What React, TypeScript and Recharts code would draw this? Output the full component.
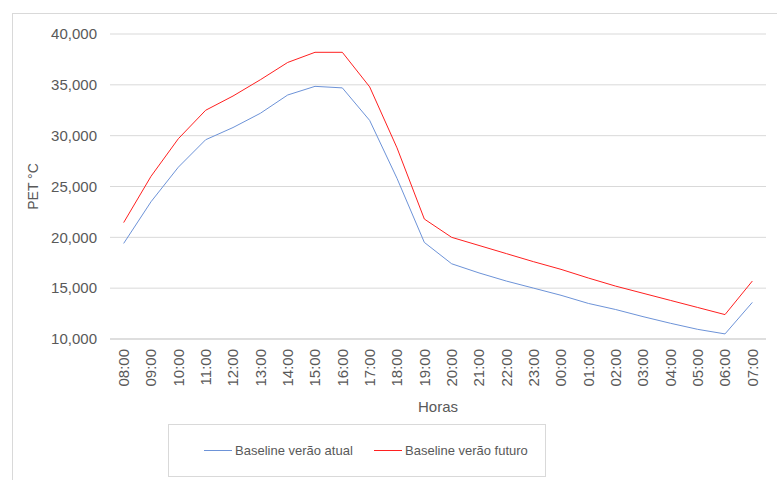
import { LineChart, Line, XAxis, YAxis, CartesianGrid, Legend } from "recharts";

// hours of the day (x axis)
const hours = [
  "08:00", "09:00", "10:00", "11:00", "12:00", "13:00", "14:00", "15:00",
  "16:00", "17:00", "18:00", "19:00", "20:00", "21:00", "22:00", "23:00",
  "00:00", "01:00", "02:00", "03:00", "04:00", "05:00", "06:00", "07:00",
];

// PET °C, current summer baseline
const atual = [
  19.4, 23.5, 26.9, 29.6, 30.8, 32.2, 34.0, 34.85, 34.7, 31.5, 25.8, 19.5,
  17.4, 16.5, 15.7, 15.0, 14.3, 13.5, 12.9, 12.2, 11.55, 10.95, 10.5, 13.6,
];

// PET °C, future summer baseline
const futuro = [
  21.45, 26.0, 29.7, 32.5, 33.9, 35.5, 37.2, 38.2, 38.2, 34.8, 28.8, 21.8,
  20.0, 19.2, 18.4, 17.6, 16.85, 16.0, 15.2, 14.5, 13.8, 13.1, 12.4, 15.7,
];

const yTicks = [10000, 15000, 20000, 25000, 30000, 35000, 40000];

const data = hours.map((h, i) => ({
  hora: h,
  atual: atual[i] * 1000,
  futuro: futuro[i] * 1000,
}));

const TEXT = "#595959";
const FONT = '"Liberation Sans", Arial, sans-serif';

const HourTick = (props: any) => {
  const { x, y, payload } = props;
  return (
    <g transform={`translate(${x},${y})`}>
      <text
        transform="rotate(-90)"
        textAnchor="end"
        dy="0.35em"
        fill={TEXT}
        fontSize={15}
        fontFamily={FONT}
      >
        {payload.value}
      </text>
    </g>
  );
};

const LegendBox = (props: any) => {
  const { payload } = props;
  return (
    <div
      style={{
        display: "flex",
        alignItems: "center",
        height: "100%",
        paddingLeft: 35,
        boxSizing: "border-box",
      }}
    >
      {(payload || []).map((entry: any) => (
        <div
          key={entry.value}
          style={{ display: "flex", alignItems: "center", width: 170 }}
        >
          <span
            style={{
              display: "inline-block",
              width: 28,
              height: 1,
              background: entry.color,
              marginRight: 3,
            }}
          />
          <span style={{ fontFamily: FONT, fontSize: 13, color: TEXT }}>
            {entry.value}
          </span>
        </div>
      ))}
    </div>
  );
};

export default function App() {
  return (
    <div
      style={{
        position: "fixed",
        left: 0,
        top: 0,
        width: 777,
        height: 480,
        overflow: "hidden",
        background: "#fff",
      }}
    >
      <div
        style={{
          position: "absolute",
          left: 12,
          top: 13,
          width: 800,
          height: 500,
          border: "1px solid #d9d9d9",
        }}
      />
      <LineChart
        width={777}
        height={480}
        data={data}
        margin={{ top: 34, right: 11, left: 0, bottom: 81 }}
        style={{ position: "absolute", left: 0, top: 0 }}
      >
        <CartesianGrid vertical={false} stroke="#d9d9d9" />
        <XAxis
          dataKey="hora"
          scale="band"
          interval={0}
          height={60}
          tickSize={0}
          tickMargin={10}
          tickLine={false}
          axisLine={{ stroke: "#d0d0d0" }}
          tick={<HourTick />}
          label={{
            content: (p: any) => (
              <text
                x={p.viewBox.x + p.viewBox.width / 2}
                y={p.viewBox.y + 67}
                textAnchor="middle"
                dominantBaseline="central"
                fill={TEXT}
                fontSize={15}
                fontFamily={FONT}
              >
                Horas
              </text>
            ),
          }}
        />
        <YAxis
          width={110}
          domain={[10000, 40000]}
          ticks={yTicks}
          axisLine={false}
          tickLine={false}
          tickSize={0}
          tickMargin={13}
          tickFormatter={(v: number) => v.toLocaleString("en-US")}
          tick={{ fill: TEXT, fontSize: 15, fontFamily: FONT }}
          label={{
            content: (p: any) => {
              const cx = p.viewBox.x + 33;
              const cy = p.viewBox.y + p.viewBox.height / 2;
              return (
                <text
                  x={cx}
                  y={cy}
                  transform={`rotate(-90, ${cx}, ${cy})`}
                  textAnchor="middle"
                  dominantBaseline="central"
                  fill={TEXT}
                  fontSize={14}
                  fontFamily={FONT}
                >
                  PET °C
                </text>
              );
            },
          }}
        />
        <Legend
          layout="horizontal"
          align="center"
          verticalAlign="middle"
          content={<LegendBox />}
          wrapperStyle={{
            left: 168,
            top: 424,
            width: 378,
            height: 53,
            border: "1px solid #d9d9d9",
            boxSizing: "border-box",
          }}
        />
        <Line
          type="linear"
          dataKey="atual"
          name="Baseline verão atual"
          stroke="#6d93d8"
          strokeWidth={1}
          dot={false}
          activeDot={false}
          isAnimationActive={false}
        />
        <Line
          type="linear"
          dataKey="futuro"
          name="Baseline verão futuro"
          stroke="#ff2020"
          strokeWidth={1}
          dot={false}
          activeDot={false}
          isAnimationActive={false}
        />
      </LineChart>
    </div>
  );
}
